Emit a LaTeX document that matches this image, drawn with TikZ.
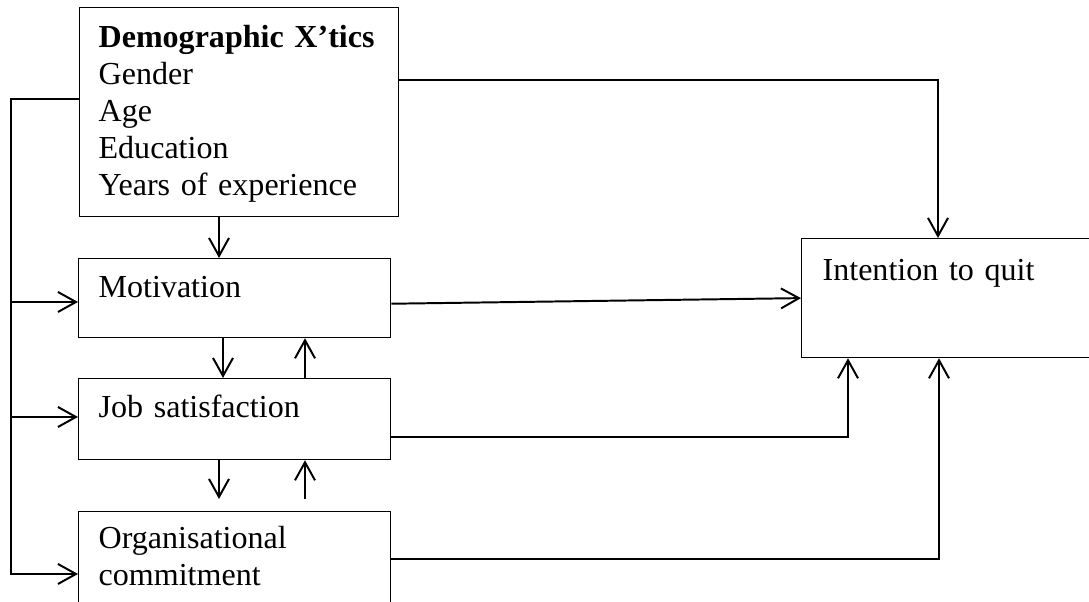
\documentclass[tikz,border=0pt]{standalone}
\usepackage{fontspec}
\setmainfont{Liberation Serif}
\usetikzlibrary{arrows.meta,positioning}
\tikzset{
  >={Straight Barb[length=4.5mm,width=5mm]},
  box/.style={draw=black,line width=0.9pt,anchor=north west,align=left,
    text width=#1,inner xsep=5mm,inner ysep=0pt,
    font=\fontsize{22.8}{26.3}\selectfont},
  box/.default=6.8cm,
  flow/.style={->,line width=1.4pt},
}

\begin{document}
\begin{tikzpicture}
        \useasboundingbox (0,0) rectangle (27.225,15.05);
        \clip (0,0) rectangle (27.225,15.05);
        % boxes
        \node[box=7.025cm,inner xsep=4.75mm,text height=10mm,text depth=42.25mm] (demo) at (1.975,14.875)
          {\textbf{Demographic X’tics}\\Gender\\Age\\Education\\Years of experience};
        \node[box,text height=9.75mm,text depth=10mm] (motiv) at (1.95,8.6) {Motivation};
        \node[box,text height=9.75mm,text depth=10.5mm] (job) at (1.95,5.6) {Job satisfaction};
        \node[box,text height=9.25mm,text depth=22.25mm] (org) at (1.95,2.275) {Organisational\\commitment};
        \node[box=6.95cm,inner xsep=5.25mm,text height=10.5mm,text depth=19.25mm] (quit) at (20.025,9.1) {Intention to quit};
        % left bus
        \coordinate (bus) at (0.275,12.575);
        \coordinate (inM) at (0.275,7.5);
        \coordinate (inJ) at (0.275,4.625);
        \coordinate (inO) at (0.275,0.7);
        \draw[flow] (demo.west |- bus) -- (bus) -- (inO) -- (org.west |- inO);
        \draw[flow] (inM) -- (motiv.west |- inM);
        \draw[flow] (inJ) -- (job.west |- inJ);
        % arrows between the stacked boxes
        \coordinate (dA) at (5.475,0);
        \coordinate (dB) at (5.575,0);
        \coordinate (uA) at (7.625,0);
        \coordinate (gap) at (5.475,2.575);
        \draw[flow] (demo.south -| dA) -- (motiv.north -| dA);
        \draw[flow] (motiv.south -| dB) -- (job.north -| dB);
        \draw[flow] (job.north -| uA) -- (motiv.south -| uA);
        \draw[flow] (job.south -| gap) -- (gap);
        \draw[flow] (gap -| uA) -- (job.south -| uA);
        % into intention to quit
        \coordinate (qa) at (23.45,13.05);
        \coordinate (qb) at (21.2,4.125);
        \coordinate (qc) at (23.475,1.075);
        \draw[flow] (demo.east |- qa) -- (qa) -- (quit.north -| qa);
        \draw[flow] ([yshift=-1.4mm]motiv.east) -- (quit.west);
        \draw[flow] (job.east |- qb) -- (qb) -- (quit.south -| qb);
        \draw[flow] (org.east |- qc) -- (qc) -- (quit.south -| qc);
      \end{tikzpicture}
\end{document}
